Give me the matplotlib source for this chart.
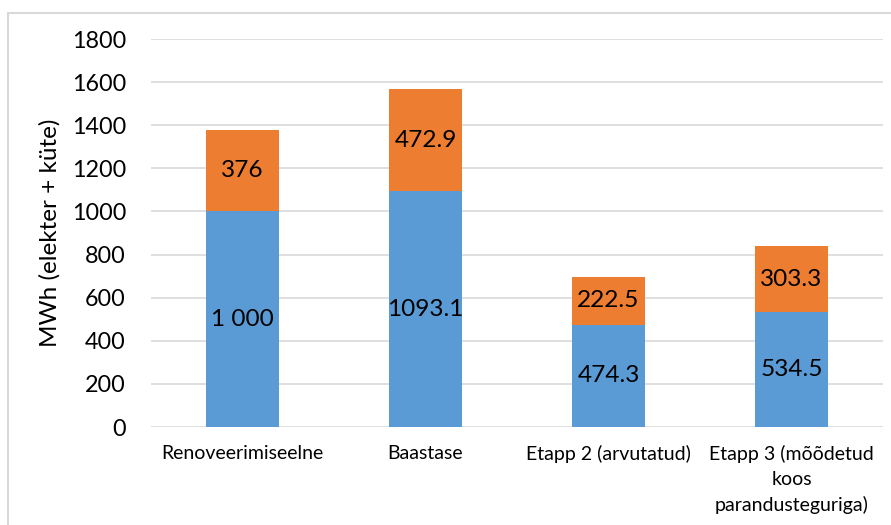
import matplotlib
matplotlib.use("Agg")
import matplotlib.pyplot as plt
from matplotlib.patches import Rectangle

plt.rcParams['font.family'] = ['Lato', 'DejaVu Sans']

categories = ["Renoveerimiseelne", "Baastase", "Etapp 2 (arvutatud)",
              "Etapp 3 (mõõdetud\nkoos\nparandusteguriga)"]
elekter = [1000.0, 1093.1, 474.3, 534.5]
kute = [376.0, 472.9, 222.5, 303.3]
elekter_labels = ["1 000", "1093.1", "474.3", "534.5"]
kute_labels = ["376", "472.9", "222.5", "303.3"]
yticks = [0, 200, 400, 600, 800, 1000, 1200, 1400, 1600, 1800]

W, H = 891, 525
fig = plt.figure(figsize=(W / 100, H / 100), dpi=100)

# light frame around the chart area
fig.patches.append(Rectangle((8 / W, -0.1), 1.2, 1 - 13 / H + 0.1,
                             transform=fig.transFigure, fill=False,
                             edgecolor="#D9D9D9", linewidth=1.5))

ax = fig.add_axes([151 / W, 1 - 427 / H, 732 / W, 388 / H])

blue = "#5B9BD5"
orange = "#ED7D31"
x = list(range(len(categories)))
ax.bar(x, elekter, width=0.4, color=blue, zorder=3)
ax.bar(x, kute, width=0.4, bottom=elekter, color=orange, zorder=3)

for i in x:
    ax.text(i, elekter[i] / 2, elekter_labels[i], ha="center", va="center",
            fontsize=17.6, color="black", zorder=4)
    ax.text(i, elekter[i] + kute[i] / 2, kute_labels[i], ha="center",
            va="center", fontsize=17.6, color="black", zorder=4)

ax.set_xlim(-0.5, len(categories) - 0.5)
ax.set_ylim(0, 1800)
ax.set_yticks(yticks)
ax.set_yticklabels([str(v) for v in yticks], fontsize=16.8)
ax.set_xticks(x)
ax.set_xticklabels(categories, fontsize=14, linespacing=1.55, va="top")
ax.tick_params(axis="y", length=0, pad=18)
ax.tick_params(axis="x", length=0, pad=13)
ax.grid(axis="y", color="#D9D9D9", linewidth=1.2, zorder=0)
for s in ax.spines.values():
    s.set_visible(False)

ax.set_ylabel("MWh (elekter + küte)", fontsize=17.5)
ax.yaxis.set_label_coords(-0.124, 0.5)

fig.savefig("out.png", dpi=100)
